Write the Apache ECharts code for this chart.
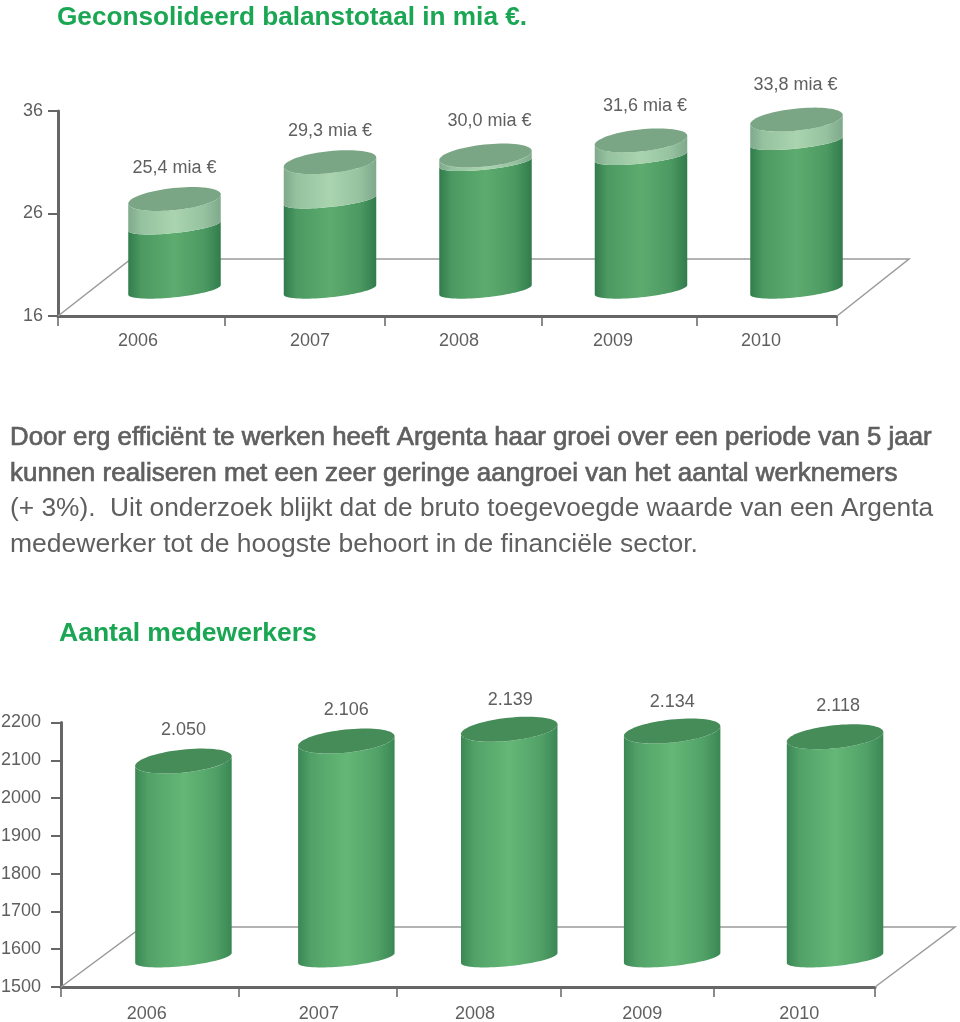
<!DOCTYPE html>
<html><head><meta charset="utf-8">
<style>html,body{margin:0;padding:0;background:#fff}#c{width:960px;height:1022px}</style>
<script src="https://cdn.jsdelivr.net/npm/echarts@6/dist/echarts.min.js"></script>
</head><body><div id="c"></div>
<script>
const years = ['2006','2007','2008','2009','2010'];
const balanceTotal = [25.4, 29.3, 30.0, 31.6, 33.8];
const balanceLower = [22.55, 25.3, 29.26, 29.89, 31.48];
const balanceTicks = [16, 26, 36];
const staffTotal = [2050, 2106, 2139, 2134, 2118];
const staffTicks = [1500,1600,1700,1800,1900,2000,2100,2200];
const title1 = 'Geconsolideerd balanstotaal in mia €.';
const title2 = 'Aantal medewerkers';
const paragraph = [
  'Door erg efficiënt te werken heeft Argenta haar groei over een periode van 5 jaar',
  'kunnen realiseren met een zeer geringe aangroei van het aantal werknemers',
  '(+ 3%).  Uit onderzoek blijkt dat de bruto toegevoegde waarde van een Argenta',
  'medewerker tot de hoogste behoort in de financiële sector.'
];
// Uneven positions of the source's x-axis ticks and labels, in band units
const topTickPos = [0, 1.069, 2.10, 3.109, 4.10, 5];
const topLabelPos = [0.514, 1.618, 2.575, 3.564, 4.515];
const botTickPos = [0, 1.094, 2.065, 3.07, 4.01, 5];
const botLabelPos = [0.527, 1.584, 2.543, 3.57, 4.535];

const FONT = '"Liberation Sans", Arial, sans-serif';
const GREY = '#666666', TXT = '#5f5f5f', GREEN = '#1aa653';
const grad = (a,b,c) => new echarts.graphic.LinearGradient(0,0,1,0,[
  {offset:0,color:a},{offset:.14,color:b},{offset:.5,color:c},{offset:.82,color:b},{offset:1,color:a}]);

function ell(c, rx, ry, s, t) {
  const co = Math.sqrt(1-s*s);
  return [c[0]+rx*Math.cos(t)*co-ry*Math.sin(t)*s, c[1]+rx*Math.cos(t)*s+ry*Math.sin(t)*co];
}
function cap(c,rx,ry,s){const p=[];for(let i=0;i<72;i++)p.push(ell(c,rx,ry,-s,i/72*2*Math.PI));return p;}
function side(cA,ryA,cB,ryB,rx,s){ // band between two tilted ellipses, lower halves
  const sn=-s, co=Math.sqrt(1-s*s), p=[];
  const t0B=Math.atan2(-ryB*sn,rx*co), t0A=Math.atan2(-ryA*sn,rx*co);
  for(let i=0;i<=40;i++)p.push(ell(cB,rx,ryB,sn,t0B+i/40*Math.PI));
  for(let i=40;i>=0;i--)p.push(ell(cA,rx,ryA,sn,t0A+i/40*Math.PI));
  return p;
}
function cylinderSeries(xi, yi, o, data) {
  return {type:'custom', xAxisIndex:xi, yAxisIndex:yi, z:5, clip:false, silent:true, data,
    encode:{x:0,y:1},
    renderItem(params, api){
      const i=api.value(0), v=api.value(1), low=api.value(2);
      const top=api.coord([i,v]), base=api.coord([i,o.floor]);
      const children=[];
      if(o.lowerBand){
        const mid=api.coord([i,low]);
        children.push({type:'polygon',shape:{points:side(mid,o.ryMid,base,o.ryBase,o.rx,o.s)},style:{fill:o.body}});
        children.push({type:'polygon',shape:{points:side(top,o.ryTop,mid,o.ryMid,o.rx,o.s)},style:{fill:o.band}});
      } else {
        children.push({type:'polygon',shape:{points:side(top,o.ryTop,base,o.ryBase,o.rx,o.s)},style:{fill:o.body}});
      }
      children.push({type:'polygon',shape:{points:cap(top,o.rx,o.ryTop,o.s)},style:{fill:o.cap}});
      const n=o.nudge[params.dataIndex];
      children.push({type:'text',style:{text:o.label(v),x:top[0]+n[0],y:top[1]+n[1],
        align:'center',verticalAlign:'middle',font:'18px '+FONT,fill:TXT}});
      return {type:'group',children};
    }};
}
const floorLine=(pts)=>({type:'polyline',z:1,shape:{points:pts},style:{stroke:'#9a9a9a',lineWidth:1.5,fill:null}});
const lineTitle=(text,top,size,bold)=>({text,left:10,top,padding:0,textStyle:{fontFamily:FONT,fontSize:size,fontWeight:'normal',color:TXT,
   textBorderColor:TXT,textBorderWidth:bold?0.7:0}});
const valueAxisCommon=(vals,margin)=>({type:'value',axisLine:{show:true,lineStyle:{color:GREY,width:3}},
   axisTick:{show:true,length:10,lineStyle:{color:GREY,width:2},customValues:vals},
   axisLabel:{color:TXT,fontSize:18,fontFamily:FONT,margin,customValues:vals,formatter:(v)=>String(v)},splitLine:{show:false}});
const xAxisCommon=(ticks,labels,margin)=>({type:'value',min:0,max:5,position:'bottom',
   axisLine:{show:true,lineStyle:{color:GREY,width:3}},
   axisTick:{show:true,length:10,lineStyle:{color:GREY,width:1.5},customValues:ticks},
   axisLabel:{color:TXT,fontSize:18,fontFamily:FONT,margin,customValues:labels,
     formatter:(v)=>years[labels.indexOf(v)]},splitLine:{show:false}});
const hiddenX={type:'category',data:years,show:false};

const chart=echarts.init(document.getElementById('c'),null,{renderer:'canvas'});
chart.setOption({
  animation:false,
  backgroundColor:'#fff',
  title:[
    {text:title1,left:57,top:5,padding:0,textStyle:{fontFamily:FONT,fontSize:26.2,fontWeight:'bold',color:GREEN}},
    {text:title2,left:59,top:620,padding:0,textStyle:{fontFamily:FONT,fontSize:26.5,fontWeight:'bold',color:GREEN}},
    lineTitle(paragraph[0],425,25.8,true),
    lineTitle(paragraph[1],461,26,true),
    lineTitle(paragraph[2],496,26.3,false),
    lineTitle(paragraph[3],531,26.5,false)
  ],
  graphic:[
    floorLine([[58,316],[131,259],[909,259],[837,316]]),
    floorLine([[61,987],[142,927],[955,927],[875,987]])
  ],
  grid:[
    {left:58,top:111,width:778.5,height:205,outerBoundsMode:'none'},
    {left:96.75,top:98.8,width:777.5,height:191,outerBoundsMode:'none'},
    {left:61,top:722.5,width:814,height:264.5,outerBoundsMode:'none'},
    {left:102,top:707.4,width:814.5,height:250.6,outerBoundsMode:'none'}
  ],
  xAxis:[
    Object.assign({gridIndex:0},xAxisCommon(topTickPos,topLabelPos,16)),
    Object.assign({gridIndex:1},hiddenX),
    Object.assign({gridIndex:2},xAxisCommon(botTickPos,botLabelPos,18)),
    Object.assign({gridIndex:3},hiddenX)
  ],
  yAxis:[
    Object.assign({gridIndex:0,min:16,max:36},valueAxisCommon(balanceTicks,15)),
    {gridIndex:1,type:'value',min:15.8,max:36,show:false,splitLine:{show:false}},
    Object.assign({gridIndex:2,min:1500,max:2200,interval:100},valueAxisCommon(staffTicks,20)),
    {gridIndex:3,type:'value',min:1500,max:2200,show:false,splitLine:{show:false}}
  ],
  series:[
    cylinderSeries(1,1,{
      floor:15.8, lowerBand:true, rx:46.5, ryTop:11, ryMid:7, ryBase:7.5, s:0.105,
      body:grad('#327c4c','#4c9a62','#5dab6e'),
      band:grad('#7fa98b','#96c2a0','#a9d4ae'),
      cap:'#7ba685',
      label:(v)=>v.toFixed(1).replace('.',',')+' mia €',
      nudge:[[0,-31],[0,-31],[4,-34.5],[4,-34.5],[-1,-34.5]]
    },years.map((y,i)=>[i,balanceTotal[i],balanceLower[i]])),
    cylinderSeries(3,3,{
      floor:1500, lowerBand:false, rx:48.5, ryTop:11.5, ryBase:8, s:0.105,
      body:grad('#3a8754','#52a268','#64b776'),
      band:null,
      cap:'#468c59',
      label:(v)=>String(v).replace(/(\d)(\d{3})$/,'$1.$2'),
      nudge:[[0,-31],[0,-31],[1,-29.5],[0,-28.5],[3,-30.5]]
    },years.map((y,i)=>[i,staffTotal[i],0]))
  ]
});
</script></body></html>
